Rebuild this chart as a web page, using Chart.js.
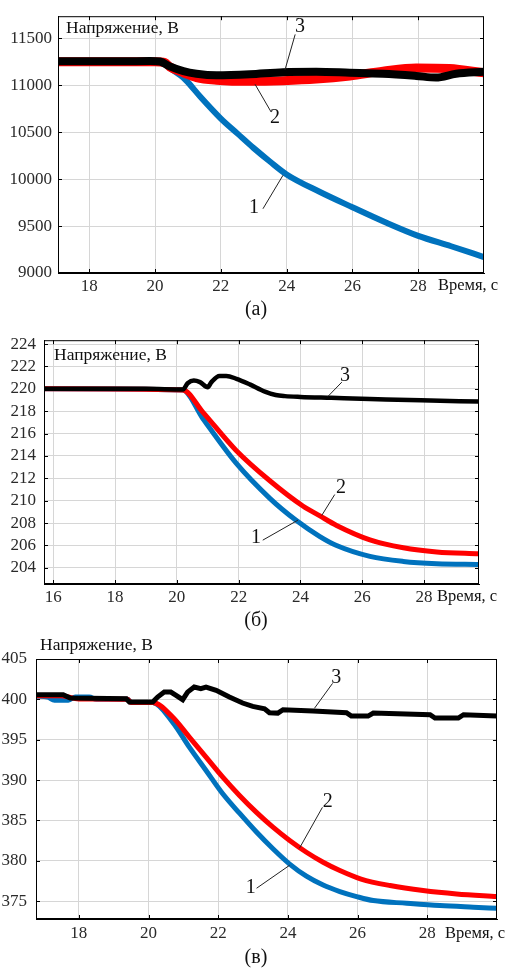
<!DOCTYPE html>
<html lang="ru">
<head>
<meta charset="UTF-8">
<title>Напряжение</title>
<script src="https://cdn.jsdelivr.net/npm/chart.js@4.4.1/dist/chart.umd.min.js"></script>
<style>
  html, body { margin: 0; padding: 0; background: #fff; }
  body { width: 511px; height: 974px; position: relative; overflow: hidden; font-family: "Liberation Serif", serif; }
  canvas { position: absolute; left: 0; }
</style>
</head>
<body>
<canvas id="chartA" width="511" height="322" style="top:0"></canvas>
<canvas id="chartB" width="511" height="310" style="top:322px"></canvas>
<canvas id="chartC" width="511" height="342" style="top:632px"></canvas>
<script>
// ---- (а) ----
const xTicksA = [18, 20, 22, 24, 26, 28];
const yTicksA = [9000, 9500, 10000, 10500, 11000, 11500];
const tA1 = [17.05, 18, 19, 20, 20.3, 20.45, 20.86, 21.0, 21.37, 22.0, 22.5, 23.0, 23.5, 24.0, 25.0, 26.0, 27.0, 28.0, 29.0, 30.0];
const vA1 = [11255, 11255, 11255, 11255, 11235, 11185, 11080, 11030, 10880, 10645, 10487, 10330, 10185, 10050, 9865, 9700, 9540, 9395, 9285, 9170];
const tA2 = [17.05, 18, 19, 20, 20.3, 20.45, 20.86, 21.26, 21.87, 22.88, 23.89, 24.9, 25.92, 26.93, 27.94, 28.95, 30.0];
const vA2 = [11250, 11250, 11250, 11250, 11240, 11195, 11133, 11082, 11054, 11041, 11048, 11065, 11099, 11150, 11184, 11177, 11133];
const tA3 = [17.05, 18, 19, 19.85, 20.15, 20.45, 20.86, 21.26, 21.87, 22.88, 23.89, 24.9, 25.92, 26.93, 27.94, 28.54, 29.15, 30.0];
const vA3 = [11255, 11255, 11255, 11258, 11252, 11200, 11150, 11122, 11105, 11116, 11139, 11143, 11133, 11122, 11099, 11082, 11122, 11143];

// ---- (б) ----
const xTicksB = [16, 18, 20, 22, 24, 26, 28];
const yTicksB = [204, 206, 208, 210, 212, 214, 216, 218, 220, 222, 224];
const tB1 = [15.7, 20.19, 20.84, 21.92, 23.01, 23.87, 24.63, 25.17, 26.25, 27.33, 28.41, 29.78];
const vB1 = [220, 219.9, 217.35, 213.35, 210.21, 208.22, 206.79, 205.99, 205.02, 204.57, 204.37, 204.3];
const tB2 = [15.7, 20.19, 20.84, 21.92, 23.01, 24.09, 24.63, 25.17, 26.25, 27.33, 28.41, 29.78];
const vB2 = [220, 219.9, 217.92, 214.49, 211.78, 209.5, 208.64, 207.79, 206.5, 205.79, 205.42, 205.25];
const tB3 = [15.7, 17, 18, 19, 20.2, 20.35, 20.55, 20.75, 21.0, 21.12, 21.38, 21.6, 21.93, 22.36, 22.85, 23.2, 23.5, 24.0, 25.0, 26.25, 27.9, 29.78];
const vB3 = [220, 220, 220, 220, 219.95, 220.5, 220.75, 220.6, 220.15, 220.6, 221.15, 221.15, 220.9, 220.4, 219.75, 219.45, 219.35, 219.28, 219.2, 219.1, 218.97, 218.86];

// ---- (в) ----
const xTicksC = [18, 20, 22, 24, 26, 28];
const yTicksC = [375, 380, 385, 390, 395, 400, 405];
const tC1 = [16.77, 17.1, 17.3, 17.7, 17.9, 18.3, 18.5, 19.4, 19.5, 20.12, 20.69, 21.17, 21.65, 22.13, 22.61, 23.09, 23.57, 24.05, 24.53, 25.01, 25.49, 25.97, 26.45, 27.41, 28.36, 29.32, 30.0];
const vC1 = [400.4, 400.3, 399.9, 399.9, 400.3, 400.3, 400.0, 400.0, 399.65, 399.6, 397.19, 394.09, 391.2, 388.31, 385.9, 383.6, 381.5, 379.6, 378.1, 377.0, 376.2, 375.58, 375.08, 374.75, 374.46, 374.26, 374.13];
const tC2 = [16.77, 17.5, 18, 19.4, 19.5, 20.12, 20.69, 21.17, 21.65, 22.13, 22.61, 23.09, 23.57, 24.05, 24.53, 25.01, 25.49, 26.1, 26.93, 27.88, 28.84, 30.0];
const vC2 = [400.45, 400.45, 400.05, 400.0, 399.6, 399.6, 397.81, 395.33, 392.85, 390.37, 388.1, 386.03, 384.17, 382.52, 381.07, 379.83, 378.8, 377.75, 376.94, 376.32, 375.9, 375.58];
const tC3 = [16.77, 17.55, 17.75, 19.36, 19.45, 20.12, 20.26, 20.45, 20.64, 20.79, 20.98, 21.12, 21.31, 21.5, 21.65, 21.94, 22.32, 22.7, 22.99, 23.33, 23.47, 23.71, 23.86, 24.72, 25.68, 25.82, 26.3, 26.45, 28.08, 28.22, 28.89, 29.04, 30.0];
const vC3 = [400.58, 400.58, 400.16, 400.08, 399.67, 399.67, 400.29, 400.9, 400.9, 400.5, 399.96, 400.9, 401.53, 401.32, 401.53, 401.12, 400.29, 399.55, 399.13, 398.84, 398.35, 398.3, 398.72, 398.55, 398.35, 397.93, 397.93, 398.3, 398.1, 397.69, 397.69, 398.1, 397.93];

const yTitle = 'Напряжение, В';
const xTitle = 'Время, с';
const captions = ['(а)', '(б)', '(в)'];

const SERIF = '"Liberation Serif", "Times New Roman", "DejaVu Serif", serif';
const BLUE = '#0072bd', RED = '#ff0000', BLACK = '#000000';
const GRID = '#d6d6d6', TICK = '#2a2a2a', TEXT = '#111111';

function pts(xs, ys) { return xs.map((x, i) => ({ x: x, y: ys[i] })); }

// рамка, внутренние засечки, подписи и выноски 1-2-3
const decorPlugin = {
    id: 'decor',
    afterDraw(chart, args, o) {
        const { ctx, chartArea: a, scales: { x, y } } = chart;
        ctx.save();
        ctx.strokeStyle = '#000';
        ctx.lineWidth = 1;
        ctx.strokeRect(a.left + 0.5, a.top + 0.5, a.right - a.left - 1, a.bottom - a.top - 1);
        ctx.beginPath();
        x.ticks.forEach(t => {
            const px = Math.round(x.getPixelForValue(t.value)) + 0.5;
            ctx.moveTo(px, a.top); ctx.lineTo(px, a.top + 4);
            ctx.moveTo(px, a.bottom); ctx.lineTo(px, a.bottom - 4);
        });
        y.ticks.forEach(t => {
            const py = Math.round(y.getPixelForValue(t.value)) + 0.5;
            ctx.moveTo(a.left, py); ctx.lineTo(a.left + 4, py);
            ctx.moveTo(a.right, py); ctx.lineTo(a.right - 4, py);
        });
        ctx.stroke();

        ctx.fillStyle = TEXT;
        ctx.strokeStyle = '#222';
        ctx.textAlign = 'center';
        ctx.textBaseline = 'middle';
        ctx.font = '20px ' + SERIF;
        o.marks.forEach(m => {
            ctx.beginPath();
            ctx.moveTo(x.getPixelForValue(m.from[0]), y.getPixelForValue(m.from[1]));
            ctx.lineTo(x.getPixelForValue(m.to[0]), y.getPixelForValue(m.to[1]));
            ctx.stroke();
            ctx.fillText(m.text, x.getPixelForValue(m.at[0]), y.getPixelForValue(m.at[1]));
        });

        ctx.textAlign = 'left';
        ctx.font = '17.5px ' + SERIF;
        ctx.fillText(yTitle, a.left + o.yT[0], a.top + o.yT[1]);
        ctx.font = '16.5px ' + SERIF;
        ctx.fillText(xTitle, o.xT[0], a.bottom + o.xT[1]);
        ctx.textAlign = 'center';
        ctx.font = '20px ' + SERIF;
        ctx.fillText(o.caption, 256, o.capY);
        ctx.restore();
    }
};

function makeChart(id, c) {
    return new Chart(document.getElementById(id), {
        type: 'line',
        data: {
            datasets: c.series.map(s => ({
                data: pts(s.t, s.v),
                borderColor: s.color,
                borderWidth: s.width,
                pointRadius: 0,
                tension: s.smooth ? 0.4 : 0,
                cubicInterpolationMode: s.smooth ? 'monotone' : 'default',
                order: s.order,
                fill: false
            }))
        },
        options: {
            responsive: false,
            animation: false,
            devicePixelRatio: 1,
            layout: { padding: { left: 0, right: c.padR, top: c.padT, bottom: 0 } },
            plugins: { legend: { display: false }, tooltip: { enabled: false }, decor: c.decor },
            scales: {
                x: {
                    type: 'linear', min: c.xMin, max: c.xMax,
                    afterBuildTicks: s => { s.ticks = c.xTicks.map(v => ({ value: v })); },
                    afterFit: s => { s.height = c.xH; },
                    grid: { color: GRID, drawTicks: false },
                    border: { color: '#000' },
                    ticks: { padding: c.xPad, color: TICK, maxRotation: 0, font: { family: SERIF, size: 17 },
                             callback: v => String(v) }
                },
                y: {
                    type: 'linear', min: c.yMin, max: c.yMax,
                    afterBuildTicks: s => { s.ticks = c.yTicks.map(v => ({ value: v })); },
                    afterFit: s => { s.width = c.yW; },
                    grid: { color: GRID, drawTicks: false },
                    border: { color: '#000' },
                    ticks: { padding: c.yPad, color: TICK, font: { family: SERIF, size: 17 },
                             callback: v => String(v) }
                }
            }
        },
        plugins: [decorPlugin]
    });
}

function drawAll() {
    Chart.defaults.font.family = SERIF;

    makeChart('chartA', {
        xMin: 17.05, xMax: 30, yMin: 9000, yMax: 11735, xTicks: xTicksA, yTicks: yTicksA,
        padR: 27, padT: 6, xH: 49, yW: 58, xPad: 3, yPad: 6,
        series: [
            { t: tA1, v: vA1, color: BLUE, width: 6, smooth: true, order: 2 },
            { t: tA2, v: vA2, color: RED, width: 9, smooth: true, order: 1 },
            { t: tA3, v: vA3, color: BLACK, width: 8, smooth: true, order: 0 }
        ],
        decor: {
            caption: captions[0], capY: 310, yT: [8, 12], xT: [438, 13],
            marks: [
                { text: '3', at: [24.41, 11622], from: [24.26, 11541], to: [23.95, 11163] },
                { text: '2', at: [23.65, 10653], from: [23.53, 10714], to: [23.04, 11010] },
                { text: '1', at: [23.01, 9694], from: [23.28, 9684], to: [23.89, 10041] }
            ]
        }
    });

    makeChart('chartB', {
        xMin: 15.7, xMax: 29.78, yMin: 202.55, yMax: 224.35, xTicks: xTicksB, yTicks: yTicksB,
        padR: 32, padT: 6, xH: 48, yW: 44, xPad: 3, yPad: 8,
        series: [
            { t: tB1, v: vB1, color: BLUE, width: 5, smooth: true, order: 2 },
            { t: tB2, v: vB2, color: RED, width: 5, smooth: true, order: 1 },
            { t: tB3, v: vB3, color: BLACK, width: 4.5, smooth: true, order: 0 }
        ],
        decor: {
            caption: captions[1], capY: 299, yT: [10, 15], xT: [437, 13],
            marks: [
                { text: '3', at: [25.44, 221.19], from: [25.34, 220.6], to: [24.89, 219.32] },
                { text: '2', at: [25.31, 211.15], from: [25.11, 210.55], to: [24.69, 208.68] },
                { text: '1', at: [22.56, 206.72], from: [22.78, 206.47], to: [23.92, 208.26] }
            ]
        }
    });

    makeChart('chartC', {
        xMin: 16.77, xMax: 30, yMin: 372.8, yMax: 405, xTicks: xTicksC, yTicks: yTicksC,
        padR: 14, padT: 27, xH: 55, yW: 36, xPad: 4, yPad: 9,
        series: [
            { t: tC1, v: vC1, color: BLUE, width: 5, smooth: true, order: 2 },
            { t: tC2, v: vC2, color: RED, width: 5, smooth: true, order: 1 },
            { t: tC3, v: vC3, color: BLACK, width: 5, smooth: false, order: 0 }
        ],
        decor: {
            caption: captions[2], capY: 326, yT: [4, -14], xT: [445, 15],
            marks: [
                { text: '3', at: [25.39, 402.72], from: [25.28, 401.98], to: [24.76, 398.89] },
                { text: '2', at: [25.14, 387.38], from: [24.99, 386.63], to: [24.33, 381.56] },
                { text: '1', at: [22.93, 376.73], from: [23.1, 376.61], to: [24.05, 379.46] }
            ]
        }
    });
}

if (document.fonts && document.fonts.load) {
    Promise.all([document.fonts.load('16px "Liberation Serif"'), document.fonts.load('16px "Times New Roman"')])
        .then(drawAll, drawAll);
} else {
    drawAll();
}
</script>
</body>
</html>
